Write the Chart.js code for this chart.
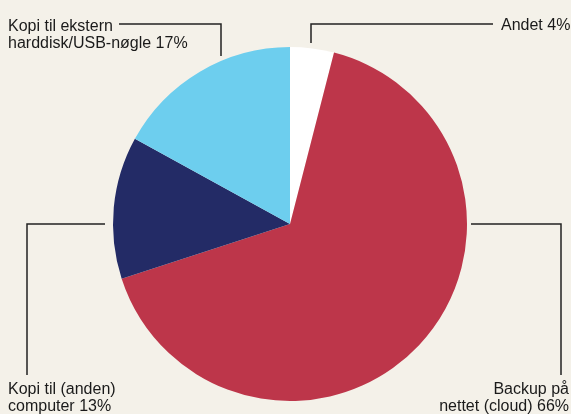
<!DOCTYPE html>
<html>
<head>
<meta charset="utf-8">
<script src="https://cdn.jsdelivr.net/npm/chart.js@4/dist/chart.umd.min.js"></script>
<style>
  html, body { margin: 0; padding: 0; background: #f4f1e9; }
  #wrap { width: 571px; height: 414px; }
</style>
</head>
<body>
<div id="wrap"><canvas id="pie" width="571" height="414"></canvas></div>
<script>
const categories = ['Andet', 'Backup på nettet (cloud)', 'Kopi til (anden) computer', 'Kopi til ekstern harddisk/USB-nøgle']
const shares = [4, 66, 13, 17]
const labelLines = [
  ['Andet 4%'],
  ['Backup på', 'nettet (cloud) 66%'],
  ['Kopi til (anden)', 'computer 13%'],
  ['Kopi til ekstern', 'harddisk/USB-nøgle 17%'],
]
const colors = ['#ffffff', '#bd364a', '#232b66', '#6dceee']

// callouts: leader line path relative to pie centre / radius, text baseline of first line
const callouts = [
  { path: (c, r) => [[c.x + 21, c.y - r - 4], [c.x + 21, 24], [493, 24]], text: { x: 501, y: 30, align: 'left' } },
  { path: (c, r) => [[c.x + r + 4, c.y], [561, c.y], [561, 375]], text: { x: 569, y: 394, align: 'right' } },
  { path: (c, r) => [[c.x - r - 8, c.y], [27, c.y], [27, 375]], text: { x: 8, y: 394, align: 'left' } },
  { path: (c, r) => [[c.x - 69, c.y - r + 9], [c.x - 69, 24], [119, 24]], text: { x: 8, y: 30.5, align: 'left' } },
]

const calloutPlugin = {
  id: 'callouts',
  afterDraw(chart) {
    const ctx = chart.ctx
    const arc = chart.getDatasetMeta(0).data[0]
    const c = { x: arc.x, y: arc.y }
    const r = arc.outerRadius
    ctx.save()
    ctx.strokeStyle = '#222222'
    ctx.lineWidth = 1.5
    ctx.fillStyle = '#1a1a1a'
    ctx.font = '16px "Liberation Sans", Arial, sans-serif'
    ctx.textBaseline = 'alphabetic'
    callouts.forEach((co, i) => {
      const pts = co.path(c, r)
      ctx.beginPath()
      pts.forEach((p, j) => j ? ctx.lineTo(p[0], p[1]) : ctx.moveTo(p[0], p[1]))
      ctx.stroke()
      ctx.textAlign = co.text.align
      labelLines[i].forEach((line, k) => {
        ctx.fillText(line, co.text.x, co.text.y + k * 17)
      })
    })
    ctx.restore()
  },
}

new Chart(document.getElementById('pie'), {
  type: 'pie',
  data: {
    labels: categories,
    datasets: [{
      data: shares,
      backgroundColor: colors,
      borderWidth: 0,
    }],
  },
  options: {
    responsive: false,
    animation: false,
    layout: { padding: { left: 113, right: 104, top: 47, bottom: 13 } },
    plugins: {
      legend: { display: false },
      tooltip: { enabled: false },
    },
  },
  plugins: [calloutPlugin],
})
</script>
</body>
</html>
